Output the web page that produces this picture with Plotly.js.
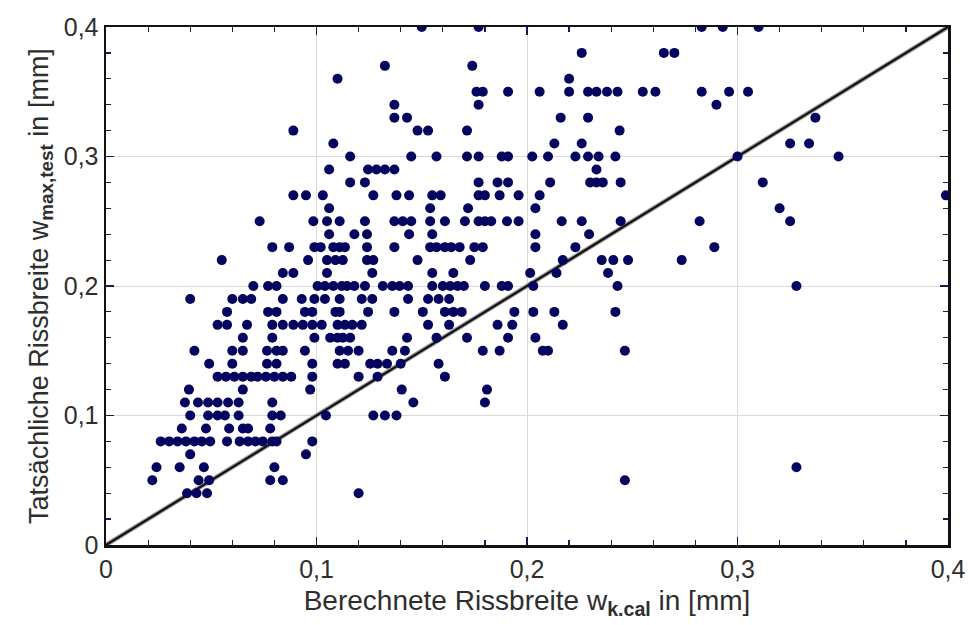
<!DOCTYPE html>
<html>
<head>
<meta charset="utf-8">
<script src="https://cdn.plot.ly/plotly-3.0.1.min.js"></script>
<style>html,body{margin:0;padding:0;background:#fff;}#chart{width:970px;height:625px;}</style>
</head>
<body>
<div id="chart"></div>
<script>
// Measured crack width levels (y, mm) and the calculated widths (x, mm) of the points on each level
const wTestLevels = [0.40, 0.38, 0.37, 0.36, 0.35, 0.34, 0.33, 0.32, 0.31, 0.30, 0.29, 0.28, 0.27, 0.26, 0.25, 0.24, 0.23, 0.22, 0.21, 0.20, 0.19, 0.18, 0.17, 0.16, 0.15, 0.14, 0.13, 0.12, 0.11, 0.10, 0.09, 0.08, 0.07, 0.06, 0.05, 0.04];
const wCalAtLevel = [
  [0.150, 0.177, 0.283, 0.293, 0.310],
  [0.226, 0.265, 0.270],
  [0.1325, 0.174],
  [0.110, 0.220],
  [0.176, 0.179, 0.191, 0.206, 0.220, 0.229, 0.233, 0.238, 0.243, 0.255, 0.261, 0.283, 0.296, 0.305],
  [0.137, 0.177, 0.290],
  [0.137, 0.143, 0.216, 0.229, 0.337],
  [0.089, 0.148, 0.153, 0.1715, 0.244],
  [0.108, 0.213, 0.226, 0.325, 0.334],
  [0.116, 0.145, 0.157, 0.1715, 0.177, 0.188, 0.191, 0.2025, 0.210, 0.223, 0.229, 0.234, 0.242, 0.300, 0.348],
  [0.106, 0.1245, 0.1285, 0.1325, 0.137, 0.233],
  [0.116, 0.123, 0.177, 0.186, 0.191, 0.211, 0.230, 0.233, 0.236, 0.2445, 0.312],
  [0.089, 0.095, 0.103, 0.127, 0.138, 0.144, 0.155, 0.159, 0.177, 0.180, 0.187, 0.196, 0.206, 0.399],
  [0.106, 0.154, 0.172, 0.204, 0.320],
  [0.073, 0.0985, 0.105, 0.111, 0.123, 0.137, 0.141, 0.145, 0.154, 0.161, 0.1705, 0.177, 0.180, 0.183, 0.1905, 0.196, 0.2165, 0.226, 0.2445, 0.282, 0.325],
  [0.106, 0.118, 0.124, 0.144, 0.155, 0.204, 0.2295],
  [0.079, 0.087, 0.099, 0.102, 0.108, 0.111, 0.1135, 0.124, 0.137, 0.154, 0.157, 0.161, 0.164, 0.168, 0.175, 0.179, 0.204, 0.223, 0.289],
  [0.055, 0.096, 0.105, 0.109, 0.1125, 0.124, 0.127, 0.148, 0.173, 0.217, 0.2355, 0.241, 0.248, 0.2735],
  [0.084, 0.089, 0.105, 0.1265, 0.155, 0.165, 0.2015, 0.214, 0.2385],
  [0.070, 0.077, 0.081, 0.1005, 0.104, 0.108, 0.112, 0.1145, 0.118, 0.123, 0.1315, 0.136, 0.1395, 0.1435, 0.155, 0.160, 0.1635, 0.167, 0.170, 0.180, 0.188, 0.191, 0.203, 0.243, 0.328],
  [0.040, 0.060, 0.065, 0.069, 0.084, 0.093, 0.099, 0.104, 0.111, 0.1215, 0.1265, 0.1435, 0.153, 0.158, 0.163],
  [0.0575, 0.077, 0.081, 0.0945, 0.098, 0.109, 0.111, 0.1245, 0.137, 0.1505, 0.161, 0.165, 0.169, 0.194, 0.203, 0.213, 0.242],
  [0.053, 0.0575, 0.067, 0.079, 0.084, 0.089, 0.0935, 0.098, 0.1025, 0.110, 0.1135, 0.117, 0.1215, 0.153, 0.163, 0.186, 0.193, 0.217],
  [0.065, 0.079, 0.099, 0.1065, 0.110, 0.1125, 0.116, 0.143, 0.157, 0.1715, 0.191, 0.204],
  [0.042, 0.060, 0.065, 0.0765, 0.081, 0.084, 0.0945, 0.111, 0.115, 0.120, 0.136, 0.142, 0.179, 0.187, 0.2075, 0.210, 0.2465],
  [0.049, 0.060, 0.0765, 0.081, 0.098, 0.110, 0.1135, 0.1255, 0.129, 0.1335, 0.140, 0.158],
  [0.053, 0.057, 0.061, 0.065, 0.069, 0.072, 0.076, 0.080, 0.084, 0.088, 0.098, 0.120, 0.129, 0.161],
  [0.0394, 0.065, 0.097, 0.1405, 0.181],
  [0.0375, 0.0437, 0.0485, 0.053, 0.058, 0.063, 0.079, 0.146, 0.180],
  [0.040, 0.0485, 0.053, 0.0565, 0.063, 0.079, 0.083, 0.1045, 0.127, 0.1325, 0.138],
  [0.036, 0.0475, 0.0585, 0.065, 0.0675, 0.078],
  [0.026, 0.030, 0.034, 0.038, 0.042, 0.0455, 0.0495, 0.0575, 0.0635, 0.0675, 0.071, 0.0745, 0.079, 0.081, 0.098],
  [0.040, 0.095],
  [0.024, 0.035, 0.0465, 0.080, 0.328],
  [0.022, 0.044, 0.049, 0.078, 0.084, 0.2465],
  [0.0385, 0.043, 0.048, 0.120]
];
// Line of equality w_test = w_cal
const equalityX = [0, 0.4];
const equalityY = [0, 0.4];
// Tick labels
const tickVals = [0, 0.1, 0.2, 0.3, 0.4];
const tickLabels = ["0", "0,1", "0,2", "0,3", "0,4"];

const xs = [], ys = [];
wTestLevels.forEach((lv, i) => {
  wCalAtLevel[i].forEach(xv => { xs.push(xv); ys.push(lv); });
});

const traces = [
  {
    x: equalityX, y: equalityY, type: 'scatter', mode: 'lines',
    line: {color: '#9a9a9a', width: 4.5}, hoverinfo: 'skip', showlegend: false
  },
  {
    x: equalityX, y: equalityY, type: 'scatter', mode: 'lines',
    line: {color: '#111111', width: 2.2}, hoverinfo: 'skip', showlegend: false
  },
  {
    x: xs, y: ys, type: 'scatter', mode: 'markers',
    marker: {color: '#05055f', size: 10, line: {width: 0}},
    showlegend: false
  }
];

const fontFam = 'Liberation Sans, Arial, sans-serif';
const axisCommon = {
  range: [0, 0.4],
  tickvals: tickVals,
  ticktext: tickLabels,
  showgrid: true,
  gridcolor: '#d9d9d9',
  gridwidth: 1,
  zeroline: false,
  showline: true,
  linecolor: '#111111',
  linewidth: 2.5,
  mirror: 'ticks',
  ticks: 'inside',
  ticklen: 8,
  tickwidth: 1.5,
  tickcolor: '#1a1a50',
  minor: {dtick: 0.02, ticks: 'inside', ticklen: 5, tickwidth: 1.2, tickcolor: '#1a1a50', showgrid: false},
  tickfont: {family: fontFam, size: 25, color: '#2e2e2e'},
  fixedrange: true
};

const layout = {
  width: 970, height: 625,
  margin: {l: 106, r: 22, t: 27, b: 80},
  paper_bgcolor: '#ffffff',
  plot_bgcolor: '#ffffff',
  showlegend: false,
  xaxis: Object.assign({}, axisCommon, {
    title: {text: 'Berechnete Rissbreite w<sub><b>k.cal</b></sub> in [mm]', font: {family: fontFam, size: 28, color: '#2e2e2e'}, standoff: 9}
  }),
  yaxis: Object.assign({}, axisCommon, {
    title: {text: 'Tatsächliche Rissbreite w<sub><b>max,test</b></sub> in [mm]', font: {family: fontFam, size: 27, color: '#2e2e2e'}, standoff: 8}
  })
};

Plotly.newPlot('chart', traces, layout, {displayModeBar: false, staticPlot: true});
</script>
</body>
</html>
